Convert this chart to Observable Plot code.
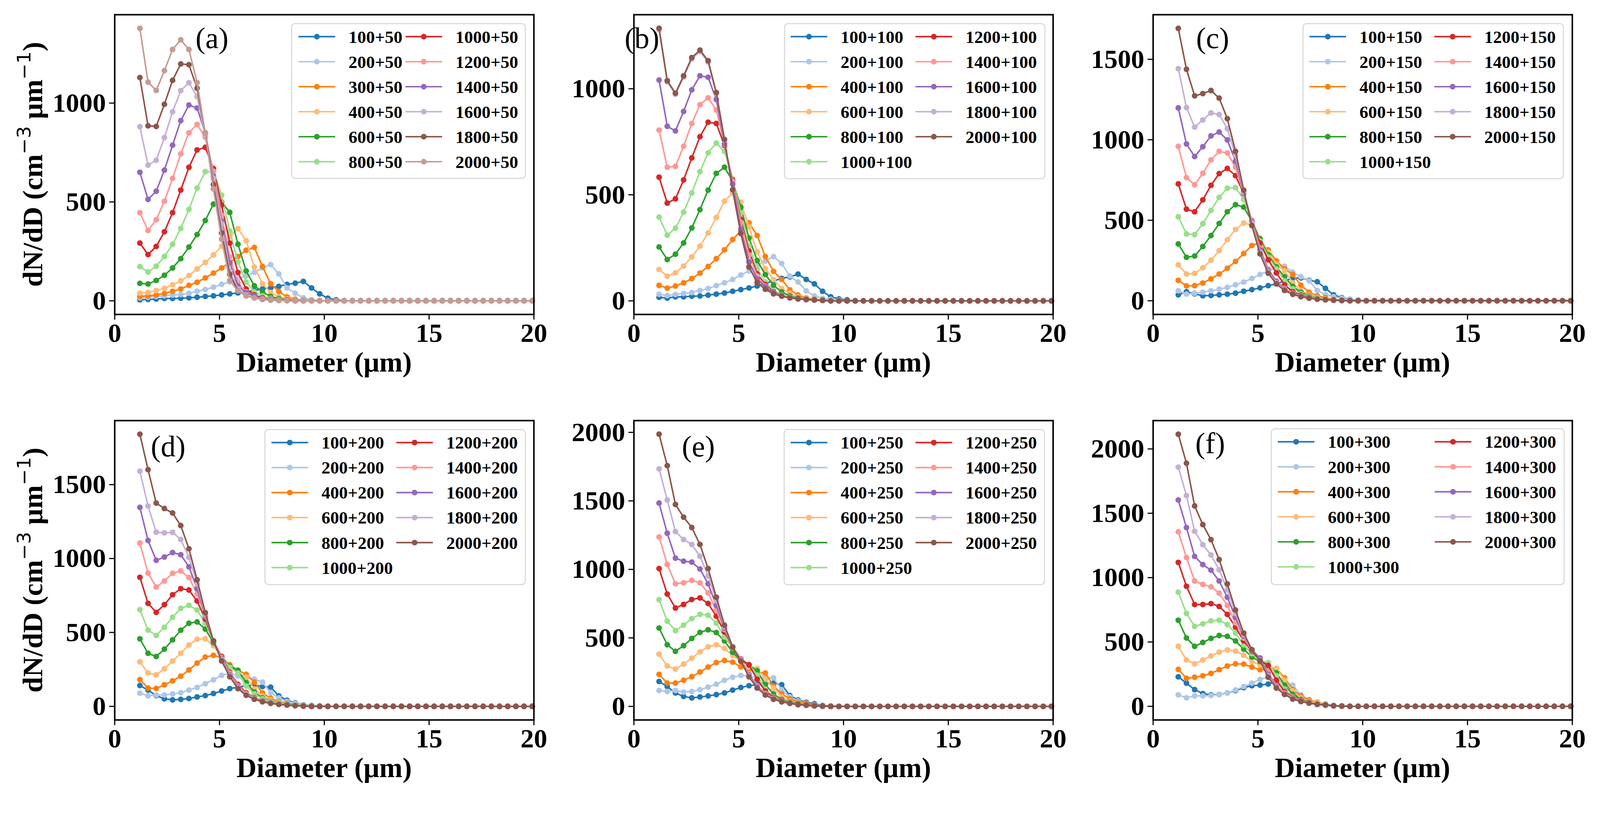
<!DOCTYPE html>
<html>
<head>
<meta charset="utf-8">
<script src="https://cdn.jsdelivr.net/npm/d3@7"></script>
<script src="https://cdn.jsdelivr.net/npm/@observablehq/plot@0.6"></script>
<style>
  html, body { margin: 0; padding: 0; background: white; overflow: hidden; }
  #chart { position: relative; width: 4191px; height: 2086px; background: white; overflow: hidden; transform-origin: 0 0; }
  #chart svg { position: absolute; overflow: visible; }
</style>
</head>
<body>
<div id="chart"></div>
<script>
// diameter bins (µm), shared by every panel
const diameters = [1.2,1.59,1.98,2.37,2.76,3.15,3.54,3.93,4.32,4.71,5.1,5.49,5.88,6.27,6.66,7.05,7.44,7.83,8.22,8.61,9,9.39,9.78,10.17,10.56,10.95,11.34,11.73,12.12,12.51,12.9,13.29,13.68,14.07,14.46,14.85,15.24,15.63,16.02,16.41,16.8,17.19,17.58,17.97,18.36,18.75,19.14,19.53,19.92];

const colors = ["#1f77b4","#aec7e8","#ff7f0e","#ffbb78","#2ca02c","#98df8a","#d62728","#ff9896","#9467bd","#c5b0d5","#8c564b","#c49c94"];

const labelsA = ["100+50","200+50","300+50","400+50","600+50","800+50","1000+50","1200+50","1400+50","1600+50","1800+50","2000+50"];
const labelsB = ["100+100","200+100","400+100","600+100","800+100","1000+100","1200+100","1400+100","1600+100","1800+100","2000+100"];
const labelsC = ["100+150","200+150","400+150","600+150","800+150","1000+150","1200+150","1400+150","1600+150","1800+150","2000+150"];
const labelsD = ["100+200","200+200","400+200","600+200","800+200","1000+200","1200+200","1400+200","1600+200","1800+200","2000+200"];
const labelsE = ["100+250","200+250","400+250","600+250","800+250","1000+250","1200+250","1400+250","1600+250","1800+250","2000+250"];
const labelsF = ["100+300","200+300","400+300","600+300","800+300","1000+300","1200+300","1400+300","1600+300","1800+300","2000+300"];

const seriesA = [
  [5,7,9,12,12,13,15,18,22,25,30,35,40,45,52,60,65,73,83,89,98,65,35,13,5,0,0,0,0,0,0,0,0,0,0,0,0,0,0,0,0,0,0,0,0,0,0,0,0],
  [15,18,22,25,29,32,38,48,57,69,83,96,111,126,144,166,183,136,65,38,15,5,2,0,0,0,0,0,0,0,0,0,0,0,0,0,0,0,0,0,0,0,0,0,0,0,0,0,0],
  [23,25,30,37,48,60,78,94,116,140,166,194,224,256,270,174,86,47,20,8,3,1,0,0,0,0,0,0,0,0,0,0,0,0,0,0,0,0,0,0,0,0,0,0,0,0,0,0,0],
  [38,42,52,63,81,101,128,161,194,232,276,327,365,304,171,86,42,20,10,5,2,0,0,0,0,0,0,0,0,0,0,0,0,0,0,0,0,0,0,0,0,0,0,0,0,0,0,0,0],
  [88,85,103,129,166,213,272,335,406,489,500,447,286,151,76,45,22,11,5,2,1,0,0,0,0,0,0,0,0,0,0,0,0,0,0,0,0,0,0,0,0,0,0,0,0,0,0,0,0],
  [173,146,175,224,286,366,462,570,653,653,534,353,197,95,45,25,12,6,3,1,0,0,0,0,0,0,0,0,0,0,0,0,0,0,0,0,0,0,0,0,0,0,0,0,0,0,0,0,0],
  [292,234,275,349,446,560,675,763,776,669,484,292,143,60,30,15,8,4,2,1,0,0,0,0,0,0,0,0,0,0,0,0,0,0,0,0,0,0,0,0,0,0,0,0,0,0,0,0,0],
  [446,356,410,504,619,743,850,892,827,655,433,222,90,45,25,12,6,3,1,0,0,0,0,0,0,0,0,0,0,0,0,0,0,0,0,0,0,0,0,0,0,0,0,0,0,0,0,0,0],
  [650,513,554,661,787,911,990,975,849,630,403,192,75,40,25,12,6,3,1,0,0,0,0,0,0,0,0,0,0,0,0,0,0,0,0,0,0,0,0,0,0,0,0,0,0,0,0,0,0],
  [881,686,711,825,956,1063,1103,1033,837,620,390,150,60,30,15,8,4,2,1,0,0,0,0,0,0,0,0,0,0,0,0,0,0,0,0,0,0,0,0,0,0,0,0,0,0,0,0,0,0],
  [1129,885,882,994,1115,1198,1194,1075,849,588,343,134,50,25,15,8,4,2,1,0,0,0,0,0,0,0,0,0,0,0,0,0,0,0,0,0,0,0,0,0,0,0,0,0,0,0,0,0,0],
  [1378,1106,1064,1164,1271,1320,1271,1104,847,566,312,103,50,25,15,10,5,2,1,0,0,0,0,0,0,0,0,0,0,0,0,0,0,0,0,0,0,0,0,0,0,0,0,0,0,0,0,0,0]
];

const seriesB = [
  [17,13,19,19,22,23,27,32,37,45,53,61,70,82,94,106,113,126,101,80,45,19,9,5,0,0,0,0,0,0,0,0,0,0,0,0,0,0,0,0,0,0,0,0,0,0,0,0,0],
  [31,25,30,35,39,49,58,72,85,101,122,141,169,188,209,176,117,89,47,23,12,7,3,0,0,0,0,0,0,0,0,0,0,0,0,0,0,0,0,0,0,0,0,0,0,0,0,0,0],
  [73,60,70,85,105,131,162,199,241,289,329,368,308,209,139,101,52,28,14,8,4,0,0,0,0,0,0,0,0,0,0,0,0,0,0,0,0,0,0,0,0,0,0,0,0,0,0,0,0],
  [148,116,132,164,207,258,320,393,470,508,465,348,230,152,101,58,36,19,11,6,3,0,0,0,0,0,0,0,0,0,0,0,0,0,0,0,0,0,0,0,0,0,0,0,0,0,0,0,0],
  [254,195,220,273,344,430,522,601,630,564,442,296,190,124,73,42,23,14,8,5,3,0,0,0,0,0,0,0,0,0,0,0,0,0,0,0,0,0,0,0,0,0,0,0,0,0,0,0,0],
  [395,310,343,418,509,609,698,744,705,575,414,258,150,89,49,28,17,10,6,4,2,0,0,0,0,0,0,0,0,0,0,0,0,0,0,0,0,0,0,0,0,0,0,0,0,0,0,0,0],
  [583,461,481,570,674,774,842,836,733,569,383,235,127,77,42,26,16,10,6,4,2,0,0,0,0,0,0,0,0,0,0,0,0,0,0,0,0,0,0,0,0,0,0,0,0,0,0,0,0],
  [805,630,634,729,836,925,957,900,738,564,371,216,117,70,39,25,16,10,6,4,2,0,0,0,0,0,0,0,0,0,0,0,0,0,0,0,0,0,0,0,0,0,0,0,0,0,0,0,0],
  [1041,823,801,893,995,1061,1054,949,742,550,338,183,103,66,38,24,14,10,6,4,2,0,0,0,0,0,0,0,0,0,0,0,0,0,0,0,0,0,0,0,0,0,0,0,0,0,0,0,0],
  [1278,1032,974,1055,1140,1175,1126,977,757,521,316,159,86,55,33,22,14,9,7,4,2,0,0,0,0,0,0,0,0,0,0,0,0,0,0,0,0,0,0,0,0,0,0,0,0,0,0,0,0],
  [1285,1038,979,1061,1147,1182,1132,982,761,524,318,160,86,55,33,22,14,9,7,4,2,0,0,0,0,0,0,0,0,0,0,0,0,0,0,0,0,0,0,0,0,0,0,0,0,0,0,0,0]
];

const seriesC = [
  [37,56,43,31,33,37,41,47,59,69,80,94,105,124,140,142,127,118,77,37,19,8,4,0,0,0,0,0,0,0,0,0,0,0,0,0,0,0,0,0,0,0,0,0,0,0,0,0,0],
  [62,41,47,53,62,72,83,99,116,139,163,186,200,215,177,149,124,64,37,25,15,6,3,0,0,0,0,0,0,0,0,0,0,0,0,0,0,0,0,0,0,0,0,0,0,0,0,0,0],
  [127,92,94,110,136,166,202,244,293,343,361,316,248,198,163,97,53,31,19,8,4,0,0,0,0,0,0,0,0,0,0,0,0,0,0,0,0,0,0,0,0,0,0,0,0,0,0,0,0],
  [223,166,170,205,252,311,380,443,483,470,390,300,229,186,111,62,37,22,10,5,2,0,0,0,0,0,0,0,0,0,0,0,0,0,0,0,0,0,0,0,0,0,0,0,0,0,0,0,0],
  [353,270,278,337,405,480,553,597,582,495,384,285,210,149,89,52,31,19,8,4,2,0,0,0,0,0,0,0,0,0,0,0,0,0,0,0,0,0,0,0,0,0,0,0,0,0,0,0,0],
  [522,415,411,479,561,642,699,703,629,498,371,272,198,124,74,43,27,17,8,4,2,0,0,0,0,0,0,0,0,0,0,0,0,0,0,0,0,0,0,0,0,0,0,0,0,0,0,0,0],
  [726,569,553,627,717,790,822,777,666,498,359,254,173,99,56,35,22,10,6,3,1,0,0,0,0,0,0,0,0,0,0,0,0,0,0,0,0,0,0,0,0,0,0,0,0,0,0,0,0],
  [959,765,720,792,875,928,918,829,662,495,328,198,124,77,47,30,20,10,6,3,1,0,0,0,0,0,0,0,0,0,0,0,0,0,0,0,0,0,0,0,0,0,0,0,0,0,0,0,0],
  [1198,974,896,957,1024,1048,999,866,668,489,316,188,118,72,45,27,19,9,6,3,1,0,0,0,0,0,0,0,0,0,0,0,0,0,0,0,0,0,0,0,0,0,0,0,0,0,0,0,0],
  [1442,1200,1079,1123,1167,1157,1069,903,675,483,303,179,111,68,42,26,17,9,6,4,2,0,0,0,0,0,0,0,0,0,0,0,0,0,0,0,0,0,0,0,0,0,0,0,0,0,0,0,0],
  [1692,1438,1273,1287,1306,1259,1131,928,687,467,291,171,105,64,40,25,16,10,6,4,2,0,0,0,0,0,0,0,0,0,0,0,0,0,0,0,0,0,0,0,0,0,0,0,0,0,0,0,0]
];

const seriesD = [
  [141,110,73,51,44,47,53,64,73,87,104,120,130,140,144,134,130,71,41,24,11,6,3,0,0,0,0,0,0,0,0,0,0,0,0,0,0,0,0,0,0,0,0,0,0,0,0,0,0],
  [89,71,77,77,84,92,110,128,153,180,210,224,206,193,184,164,91,57,33,21,10,5,2,0,0,0,0,0,0,0,0,0,0,0,0,0,0,0,0,0,0,0,0,0,0,0,0,0,0],
  [181,124,121,146,173,204,246,293,334,345,330,281,244,217,164,91,55,33,21,10,5,2,0,0,0,0,0,0,0,0,0,0,0,0,0,0,0,0,0,0,0,0,0,0,0,0,0,0,0],
  [301,226,213,254,306,359,415,454,457,410,337,270,224,197,117,71,44,28,17,8,4,2,0,0,0,0,0,0,0,0,0,0,0,0,0,0,0,0,0,0,0,0,0,0,0,0,0,0,0],
  [457,359,337,387,450,515,562,571,523,430,337,270,244,161,97,57,35,23,15,9,4,2,0,0,0,0,0,0,0,0,0,0,0,0,0,0,0,0,0,0,0,0,0,0,0,0,0,0,0],
  [654,516,480,535,603,663,683,652,563,441,330,264,224,137,84,51,32,21,13,8,4,2,0,0,0,0,0,0,0,0,0,0,0,0,0,0,0,0,0,0,0,0,0,0,0,0,0,0,0],
  [873,697,636,688,755,796,787,713,590,443,337,230,148,93,59,37,24,15,9,5,2,0,0,0,0,0,0,0,0,0,0,0,0,0,0,0,0,0,0,0,0,0,0,0,0,0,0,0,0],
  [1105,901,807,848,900,916,872,760,610,443,330,224,140,88,56,36,24,15,9,5,2,0,0,0,0,0,0,0,0,0,0,0,0,0,0,0,0,0,0,0,0,0,0,0,0,0,0,0,0],
  [1346,1122,988,1010,1040,1026,944,796,614,443,323,213,133,84,53,35,23,15,9,5,2,0,0,0,0,0,0,0,0,0,0,0,0,0,0,0,0,0,0,0,0,0,0,0,0,0,0,0,0],
  [1591,1355,1178,1174,1177,1129,1008,829,623,443,317,206,126,80,51,32,21,15,9,4,2,0,0,0,0,0,0,0,0,0,0,0,0,0,0,0,0,0,0,0,0,0,0,0,0,0,0,0,0],
  [1841,1601,1375,1338,1308,1223,1066,856,634,443,307,200,120,75,48,31,20,13,9,4,2,0,0,0,0,0,0,0,0,0,0,0,0,0,0,0,0,0,0,0,0,0,0,0,0,0,0,0,0]
];

const seriesE = [
  [182,145,98,73,62,69,76,86,98,119,138,151,159,170,170,158,79,47,30,19,7,3,0,0,0,0,0,0,0,0,0,0,0,0,0,0,0,0,0,0,0,0,0,0,0,0,0,0,0],
  [116,109,116,105,109,122,141,162,191,213,226,220,213,208,208,122,69,40,24,10,5,2,0,0,0,0,0,0,0,0,0,0,0,0,0,0,0,0,0,0,0,0,0,0,0,0,0,0,0],
  [234,170,170,191,217,251,287,320,335,323,289,270,249,244,148,91,55,33,22,8,4,2,0,0,0,0,0,0,0,0,0,0,0,0,0,0,0,0,0,0,0,0,0,0,0,0,0,0,0],
  [381,295,272,309,352,398,435,450,424,371,328,289,277,198,134,69,40,26,10,5,2,0,0,0,0,0,0,0,0,0,0,0,0,0,0,0,0,0,0,0,0,0,0,0,0,0,0,0,0],
  [572,450,402,443,496,540,559,539,478,395,335,303,260,158,91,50,32,20,8,4,2,0,0,0,0,0,0,0,0,0,0,0,0,0,0,0,0,0,0,0,0,0,0,0,0,0,0,0,0],
  [779,622,553,593,641,672,665,608,507,428,342,309,227,126,69,42,27,15,8,4,2,0,0,0,0,0,0,0,0,0,0,0,0,0,0,0,0,0,0,0,0,0,0,0,0,0,0,0,0],
  [1006,820,718,744,780,792,751,658,543,435,346,303,198,112,65,40,26,11,6,3,1,0,0,0,0,0,0,0,0,0,0,0,0,0,0,0,0,0,0,0,0,0,0,0,0,0,0,0,0],
  [1237,1036,895,902,920,902,828,701,562,435,342,237,151,95,59,37,26,12,6,3,1,0,0,0,0,0,0,0,0,0,0,0,0,0,0,0,0,0,0,0,0,0,0,0,0,0,0,0,0],
  [1484,1264,1082,1060,1053,1003,895,737,572,435,338,230,145,91,56,36,24,12,6,3,1,0,0,0,0,0,0,0,0,0,0,0,0,0,0,0,0,0,0,0,0,0,0,0,0,0,0,0,0],
  [1734,1506,1276,1218,1182,1096,953,773,582,435,335,223,139,88,55,34,23,10,6,3,1,0,0,0,0,0,0,0,0,0,0,0,0,0,0,0,0,0,0,0,0,0,0,0,0,0,0,0,0],
  [1987,1757,1474,1381,1306,1182,1006,797,593,432,330,216,134,83,52,33,22,14,10,4,2,0,0,0,0,0,0,0,0,0,0,0,0,0,0,0,0,0,0,0,0,0,0,0,0,0,0,0,0]
];

const seriesF = [
  [229,180,130,99,89,92,104,122,145,160,165,173,195,191,111,58,35,23,9,5,2,0,0,0,0,0,0,0,0,0,0,0,0,0,0,0,0,0,0,0,0,0,0,0,0,0,0,0,0],
  [89,66,81,81,84,92,104,127,154,180,209,226,203,185,165,89,50,32,20,7,3,0,0,0,0,0,0,0,0,0,0,0,0,0,0,0,0,0,0,0,0,0,0,0,0,0,0,0,0],
  [287,218,226,237,256,285,313,330,328,305,284,290,295,221,130,81,50,32,12,6,2,0,0,0,0,0,0,0,0,0,0,0,0,0,0,0,0,0,0,0,0,0,0,0,0,0,0,0,0],
  [466,360,330,360,391,421,438,429,397,348,322,310,295,203,119,66,41,27,10,5,2,0,0,0,0,0,0,0,0,0,0,0,0,0,0,0,0,0,0,0,0,0,0,0,0,0,0,0,0],
  [669,531,466,496,528,550,544,508,444,383,348,318,260,165,93,53,34,14,8,4,2,0,0,0,0,0,0,0,0,0,0,0,0,0,0,0,0,0,0,0,0,0,0,0,0,0,0,0,0],
  [887,722,621,641,664,669,635,569,478,409,356,340,237,134,75,46,31,14,8,4,2,0,0,0,0,0,0,0,0,0,0,0,0,0,0,0,0,0,0,0,0,0,0,0,0,0,0,0,0],
  [1118,933,791,791,798,776,714,615,508,429,356,318,203,115,70,44,29,12,7,3,1,0,0,0,0,0,0,0,0,0,0,0,0,0,0,0,0,0,0,0,0,0,0,0,0,0,0,0,0],
  [1356,1156,974,947,928,879,783,649,531,435,363,264,160,104,66,41,27,12,7,3,1,0,0,0,0,0,0,0,0,0,0,0,0,0,0,0,0,0,0,0,0,0,0,0,0,0,0,0,0],
  [1603,1389,1165,1101,1058,974,847,692,547,438,376,249,154,99,63,40,26,12,7,3,1,0,0,0,0,0,0,0,0,0,0,0,0,0,0,0,0,0,0,0,0,0,0,0,0,0,0,0,0],
  [1858,1638,1360,1256,1176,1061,905,722,557,440,359,237,148,96,60,38,26,12,7,3,1,0,0,0,0,0,0,0,0,0,0,0,0,0,0,0,0,0,0,0,0,0,0,0,0,0,0,0,0],
  [2114,1889,1557,1412,1295,1140,951,748,569,440,354,226,142,92,56,37,24,17,11,4,2,0,0,0,0,0,0,0,0,0,0,0,0,0,0,0,0,0,0,0,0,0,0,0,0,0,0,0,0]
];

const xTicks = [0, 5, 10, 15, 20];

// layout in page pixels: svg origin (left, top), frame margins, legend box
const panels = [
  {tag: "(a)", series: seriesA, labels: labelsA, yDomain: [-69, 1447], yTicks: [0, 500, 1000],
   left: 0, top: 0, ml: 300, mt: 38, h: 785, yLabel: true, tagX: 512, tagY: 126,
   leg: {x: 764, y: 62, w: 612, h: 405, cols: [782, 1062]}},
  {tag: "(b)", series: seriesB, labels: labelsB, yDomain: [-64, 1349], yTicks: [0, 500, 1000],
   left: 1460, top: 0, ml: 200, mt: 38, h: 785, yLabel: false, tagX: 1636, tagY: 126,
   leg: {x: 2055, y: 62, w: 682, h: 406, cols: [2071, 2398]}},
  {tag: "(c)", series: seriesC, labels: labelsC, yDomain: [-85, 1777], yTicks: [0, 500, 1000, 1500],
   left: 2820, top: 0, ml: 200, mt: 38, h: 785, yLabel: false, tagX: 3133, tagY: 126,
   leg: {x: 3413, y: 62, w: 682, h: 406, cols: [3430, 3757]}},
  {tag: "(d)", series: seriesD, labels: labelsD, yDomain: [-92, 1933], yTicks: [0, 500, 1000, 1500],
   left: 0, top: 1041, ml: 300, mt: 60, h: 784, yLabel: true, tagX: 395, tagY: 1195,
   leg: {x: 694, y: 1125, w: 682, h: 406, cols: [711, 1038]}},
  {tag: "(e)", series: seriesE, labels: labelsE, yDomain: [-99, 2086], yTicks: [0, 500, 1000, 1500, 2000],
   left: 1460, top: 1041, ml: 200, mt: 60, h: 784, yLabel: false, tagX: 1786, tagY: 1195,
   leg: {x: 2054, y: 1125, w: 682, h: 406, cols: [2071, 2398]}},
  {tag: "(f)", series: seriesF, labels: labelsF, yDomain: [-106, 2220], yTicks: [0, 500, 1000, 1500, 2000],
   left: 2820, top: 1041, ml: 200, mt: 60, h: 784, yLabel: false, tagX: 3131, tagY: 1187,
   leg: {x: 3330, y: 1123, w: 767, h: 408, cols: [3347, 3758]}}
];

const frameW = 1098;
const serif = "Liberation Serif, Times New Roman, serif";

function drawPanel(p) {
  const marks = [];
  p.series.forEach((vals, k) => {
    const rows = vals.map((v, i) => ({d: diameters[i], v}));
    marks.push(Plot.line(rows, {x: "d", y: "v", stroke: colors[k], strokeWidth: 4}));
    marks.push(Plot.dot(rows, {x: "d", y: "v", r: 7.5, fill: colors[k], stroke: "none"}));
  });
  marks.push(
    Plot.axisX({ticks: xTicks, tickSize: 14, tickPadding: 8, strokeWidth: 3, fontSize: 70,
      fontWeight: "bold", fontFamily: serif, fill: "black", label: null, tickFormat: d => `${d}`}),
    Plot.axisY({ticks: p.yTicks, tickSize: 14, tickPadding: 9, strokeWidth: 3, fontSize: 70,
      fontWeight: "bold", fontFamily: serif, fill: "black", label: null, tickFormat: d => `${d}`}),
    Plot.frame({stroke: "black", strokeWidth: 4})
  );

  const mr = 10, mb = 200;
  const svg = Plot.plot({
    width: p.ml + frameW + mr,
    height: p.mt + p.h + mb,
    marginLeft: p.ml, marginRight: mr, marginTop: p.mt, marginBottom: mb,
    x: {domain: [0, 20]},
    y: {domain: p.yDomain},
    style: {background: "transparent", fontFamily: serif, overflow: "visible", maxWidth: "none"},
    marks
  });
  svg.style.left = p.left + "px";
  svg.style.top = p.top + "px";
  document.getElementById("chart").appendChild(svg);

  const g = d3.select(svg).append("g").attr("text-anchor", "start");
  const ox = p.left, oy = p.top;

  // x label
  g.append("text")
    .attr("x", p.ml + frameW / 2).attr("y", p.mt + p.h + 150)
    .attr("text-anchor", "middle").attr("font-family", serif)
    .attr("font-weight", "bold").attr("font-size", 73)
    .text("Diameter (μm)");

  // y label with superscripts
  if (p.yLabel) {
    const t = g.append("text")
      .attr("transform", `translate(110,${p.mt + p.h / 2}) rotate(-90)`)
      .attr("text-anchor", "middle").attr("font-family", serif)
      .attr("font-weight", "bold").attr("font-size", 74);
    t.append("tspan").text("dN/dD (cm");
    t.append("tspan").attr("dy", -30).attr("font-family", "DejaVu Sans").attr("font-weight", "normal").attr("font-size", 50).text("\u22123");
    t.append("tspan").attr("dy", 30).text(" μm");
    t.append("tspan").attr("dy", -30).attr("font-family", "DejaVu Sans").attr("font-weight", "normal").attr("font-size", 50).text("\u22121");
    t.append("tspan").attr("dy", 30).text(")");
  }

  // panel tag
  g.append("text")
    .attr("x", p.tagX - ox).attr("y", p.tagY - oy)
    .attr("text-anchor", "start")
    .attr("font-family", serif).attr("font-size", 78)
    .text(p.tag);

  // legend (two columns, six rows in the first)
  const L = p.leg;
  g.append("rect")
    .attr("x", L.x - ox).attr("y", L.y - oy).attr("width", L.w).attr("height", L.h)
    .attr("rx", 9).attr("fill", "white").attr("fill-opacity", 0.8)
    .attr("stroke", "#d4d4d4").attr("stroke-width", 2.5);
  p.labels.forEach((lab, k) => {
    const col = k < 6 ? 0 : 1;
    const row = k < 6 ? k : k - 6;
    const hx = L.cols[col] - ox;
    const y = L.y - oy + 34 + row * 65.5;
    g.append("line").attr("x1", hx).attr("x2", hx + 96).attr("y1", y).attr("y2", y)
      .attr("stroke", colors[k]).attr("stroke-width", 4);
    g.append("circle").attr("cx", hx + 48).attr("cy", y).attr("r", 7.5).attr("fill", colors[k]);
    g.append("text").attr("x", hx + 131).attr("y", y).attr("dy", "0.35em")
      .attr("text-anchor", "start")
      .attr("font-family", serif).attr("font-weight", "bold").attr("font-size", 46)
      .text(lab);
  });
}

panels.forEach(drawPanel);

// fit the 4191x2086 drawing into whatever viewport the page gets
function fitChart() {
  const s = Math.min(window.innerWidth / 4191, window.innerHeight / 2086);
  document.getElementById("chart").style.transform = `scale(${s})`;
}
fitChart();
window.addEventListener("resize", fitChart);
</script>
</body>
</html>
